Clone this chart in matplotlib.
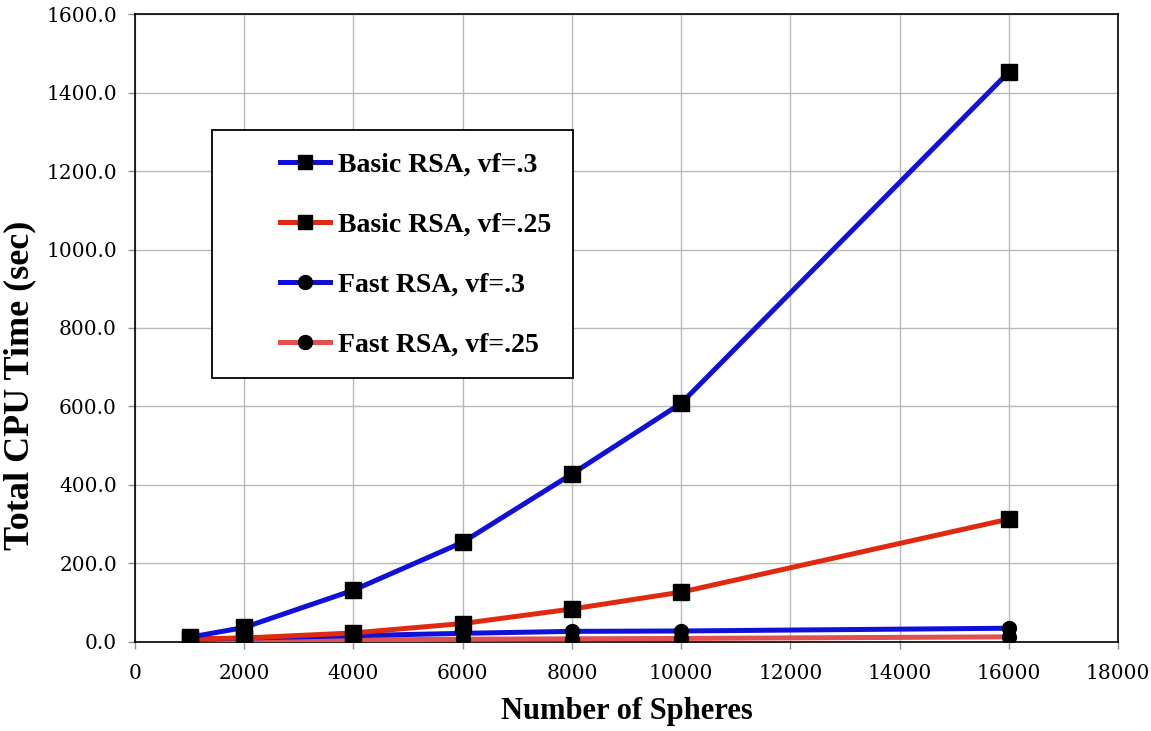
# tiempos de CPU vs numero de esferas
import numpy as np
import matplotlib.pyplot as plt
from matplotlib.patches import Rectangle
from matplotlib.ticker import FormatStrFormatter

# datos
n_esferas = [1000, 2000, 4000, 6000, 8000, 10000, 16000]
basic_03 = [12, 37, 132, 254, 428, 608, 1452]
basic_025 = [8, 10, 23, 47, 84, 127, 313]
fast_03 = [6, 10, 16, 22, 27, 28, 35]
fast_025 = [3, 4, 5, 7, 8, 9, 13]

plt.rcParams["font.family"] = ["Liberation Serif", "DejaVu Serif"]

fig = plt.figure(figsize=(11.51, 7.31), dpi=100)
ax = fig.add_axes([0.1173, 0.1218, 0.854, 0.859])

azul = "#1010d8"
rojo = "#e02a10"
rojo_claro = "#e05050"

ax.plot(n_esferas, fast_025, color=rojo_claro, lw=3.6, marker="o",
        ms=10, mfc="black", mec="black", label="Fast RSA, vf=.25", zorder=3)
ax.plot(n_esferas, fast_03, color=azul, lw=3.6, marker="o",
        ms=10, mfc="black", mec="black", label="Fast RSA, vf=.3", zorder=3)
ax.plot(n_esferas, basic_025, color=rojo, lw=3.6, marker="s",
        ms=11, mfc="black", mec="black", label="Basic RSA, vf=.25", zorder=3)
ax.plot(n_esferas, basic_03, color=azul, lw=3.6, marker="s",
        ms=11, mfc="black", mec="black", label="Basic RSA, vf=.3", zorder=3)

ax.set_xlim(0, 18000)
ax.set_ylim(0, 1600)
ax.set_xticks(np.arange(0, 18001, 2000))
ax.set_yticks(np.arange(0, 1601, 200))
ax.yaxis.set_major_formatter(FormatStrFormatter("%.1f"))
for lab in ax.get_xticklabels() + ax.get_yticklabels():
    lab.set_fontfamily("DejaVu Serif")
ax.tick_params(labelsize=14.5, length=5, color="#909090", width=1)
ax.tick_params(axis="y", pad=8)
ax.tick_params(axis="x", pad=11)
ax.grid(True, color="#b8b8b8", lw=1.0)
for s in ax.spines.values():
    s.set_color("black")
    s.set_linewidth(1.2)

ax.set_xlabel("Number of Spheres", fontsize=22, fontweight="bold", labelpad=10)
ax.set_ylabel("Total CPU Time (sec)", fontsize=26, fontweight="bold")
ax.yaxis.set_label_coords(-0.100, 0.409)

# recuadro de la leyenda
ax.add_patch(Rectangle((0.0783, 0.4204), 0.367, 0.395, transform=ax.transAxes,
                       facecolor="white", edgecolor="black", lw=1.3, zorder=5))

handles, labels = ax.get_legend_handles_labels()
leg = ax.legend(handles[::-1], labels[::-1], loc="upper left",
                bbox_to_anchor=(0.1475, 0.780), prop={"weight": "bold", "size": 20},
                labelspacing=1.24, borderpad=0, handlelength=1.8,
                handletextpad=0.3, borderaxespad=0, frameon=False)
leg.set_zorder(6)
for h in leg.legend_handles:
    h.set_markersize(10)
    h.set_linewidth(3.6)

fig.savefig("out.png", dpi=100)
